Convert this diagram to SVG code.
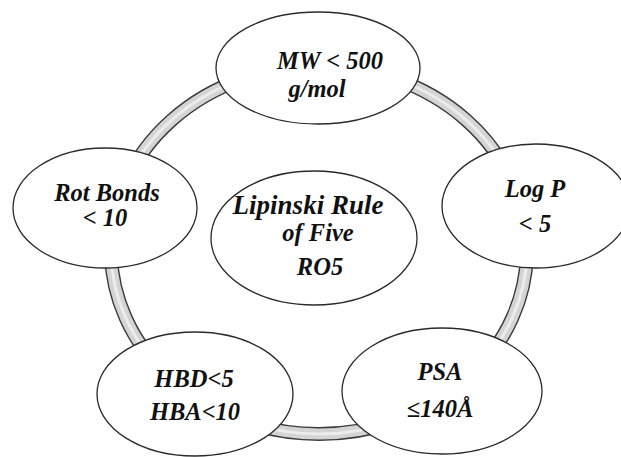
<svg xmlns="http://www.w3.org/2000/svg" width="621" height="457" viewBox="0 0 621 457">
<style>
.node{fill:#fff;stroke:#2a2a2a;stroke-width:1.3}
.t{font-family:"Liberation Serif","Times New Roman","DejaVu Serif",serif;font-weight:700;font-style:italic;font-size:24.5px;fill:#111;text-anchor:middle}
.big{font-size:27px}
</style>
<rect width="621" height="457" fill="#fff"/>
<g id="connectors" fill="none">
<ellipse cx="319" cy="250" rx="208" ry="184" stroke="#3a3a3a" stroke-width="14"/>
<ellipse cx="319" cy="250" rx="208" ry="184" stroke="#d4d4d4" stroke-width="11.2"/>
<ellipse cx="319" cy="250" rx="208" ry="184" stroke="#ececec" stroke-width="3"/>
</g>
<g id="mw"><ellipse class="node" cx="318" cy="68" rx="102" ry="56"/>
<text class="t" x="330" y="69">MW &lt; 500</text><text class="t" x="317" y="97">g/mol</text></g>
<g id="rot"><ellipse class="node" cx="105" cy="208" rx="92" ry="60"/>
<text class="t" x="107" y="201">Rot Bonds</text><text class="t" x="105" y="226">&lt; 10</text></g>
<g id="logp"><ellipse class="node" cx="536" cy="206" rx="94" ry="62"/>
<text class="t" x="535" y="197">Log P</text><text class="t" x="535" y="232">&lt; 5</text></g>
<g id="center"><ellipse class="node" cx="314" cy="238" rx="103" ry="67"/>
<text class="t big" x="308" y="214">Lipinski Rule</text><text class="t" x="318" y="241">of Five</text><text class="t" x="320" y="275">RO5</text></g>
<g id="hbd"><ellipse class="node" cx="195" cy="394" rx="98" ry="62"/>
<text class="t" x="194" y="387">HBD&lt;5</text><text class="t" x="195" y="420">HBA&lt;10</text></g>
<g id="psa"><ellipse class="node" cx="442" cy="391" rx="100" ry="63"/>
<text class="t" x="440" y="380">PSA</text><text class="t" x="440" y="417">≤140Å</text></g>
</svg>
